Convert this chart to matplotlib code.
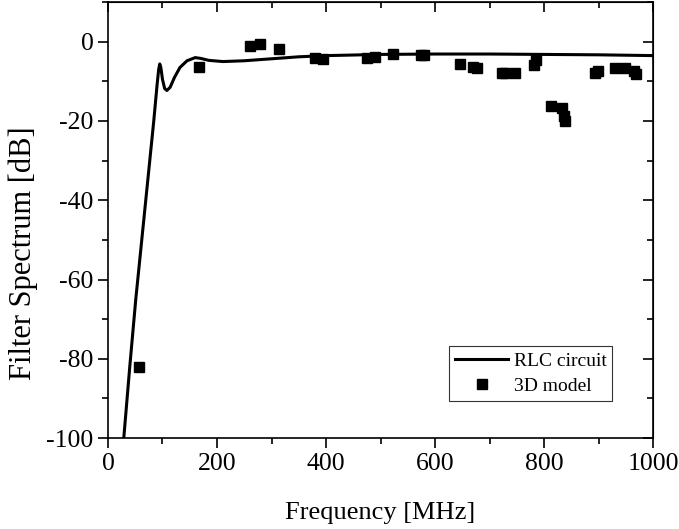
"""
Filter spectrum: RLC circuit vs 3D model.
"""
import matplotlib
matplotlib.use('Agg')
import matplotlib.pyplot as plt
from matplotlib.ticker import MultipleLocator

# RLC circuit curve
rlc_freq = [29, 40, 51, 62, 73, 84, 90, 93, 95, 97, 100, 104, 108, 114, 122,
            132, 145, 160, 170, 185, 211, 250, 300, 350, 400, 500, 600, 700,
            800, 900, 1000]
rlc_db = [-100, -82, -65, -50, -35, -20, -11, -7.0, -5.6, -6.5, -9.5, -11.8,
          -12.3, -11.5, -9, -6.5, -4.8, -4.0, -4.2, -4.7, -5.0, -4.8, -4.3,
          -3.8, -3.5, -3.2, -3.1, -3.1, -3.2, -3.3, -3.5]

# 3D model points
model_freq = [57, 167, 260, 279, 314, 380, 394, 475, 490, 523, 574, 579,
              646, 670, 677, 722, 728, 747, 781, 785, 813, 833, 836, 838,
              893, 899, 930, 949, 964, 969]
model_db = [-82, -6.3, -1.0, -0.6, -1.8, -4.0, -4.4, -4.0, -3.8, -3.1, -3.3,
            -3.4, -5.5, -6.3, -6.7, -7.8, -7.9, -8.0, -5.8, -4.6, -16.3,
            -16.7, -18.7, -20.0, -7.8, -7.5, -6.5, -6.6, -7.5, -8.1]

plt.rcParams['font.family'] = ['Liberation Serif', 'DejaVu Serif']
plt.rcParams['axes.unicode_minus'] = False

fig = plt.figure(figsize=(6.79, 5.29), dpi=100)
ax = fig.add_axes([0.159, 0.172, 0.803, 0.824])

ax.plot(rlc_freq, rlc_db, '-', color='black', lw=2.2, label='RLC circuit',
        solid_joinstyle='round')
ax.plot(model_freq, model_db, 's', color='black', ms=7.5, lw=0,
        label='3D model')

ax.set_xlim(0, 1000)
ax.set_ylim(-100, 10)
ax.xaxis.set_major_locator(MultipleLocator(200))
ax.xaxis.set_minor_locator(MultipleLocator(100))
ax.yaxis.set_major_locator(MultipleLocator(20))
ax.yaxis.set_minor_locator(MultipleLocator(10))

ax.tick_params(which='both', direction='out', top=False, right=False,
               labelsize=18.5, width=1.2, colors='black')
ax.tick_params(which='major', length=7)
ax.tick_params(which='minor', length=4)
for spine in ax.spines.values():
    spine.set_linewidth(1.2)

# mirrored inward ticks on top and right
sec_x = ax.secondary_xaxis('top')
sec_x.xaxis.set_major_locator(MultipleLocator(200))
sec_x.xaxis.set_minor_locator(MultipleLocator(100))
sec_x.tick_params(which='both', direction='in', labeltop=False, width=1.2)
sec_x.tick_params(which='major', length=7)
sec_x.tick_params(which='minor', length=4)
sec_y = ax.secondary_yaxis('right')
sec_y.yaxis.set_major_locator(MultipleLocator(20))
sec_y.yaxis.set_minor_locator(MultipleLocator(10))
sec_y.tick_params(which='both', direction='in', labelright=False, width=1.2)
sec_y.tick_params(which='major', length=7)
sec_y.tick_params(which='minor', length=4)

ax.set_xlabel("Frequency [MHz]", fontsize=19, labelpad=20)
ax.set_ylabel("Filter Spectrum [dB]", fontsize=22)
ax.yaxis.set_label_coords(-0.128, 0.424)

leg = ax.legend(loc='lower right', bbox_to_anchor=(0.925, 0.085), fontsize=14,
                frameon=True, fancybox=False, edgecolor='black',
                handlelength=2.7, handletextpad=0.3, borderpad=0.3,
                labelspacing=0.4, borderaxespad=0)
leg.get_frame().set_linewidth(0.8)

fig.savefig("out.png", dpi=100)
plt.close(fig)
